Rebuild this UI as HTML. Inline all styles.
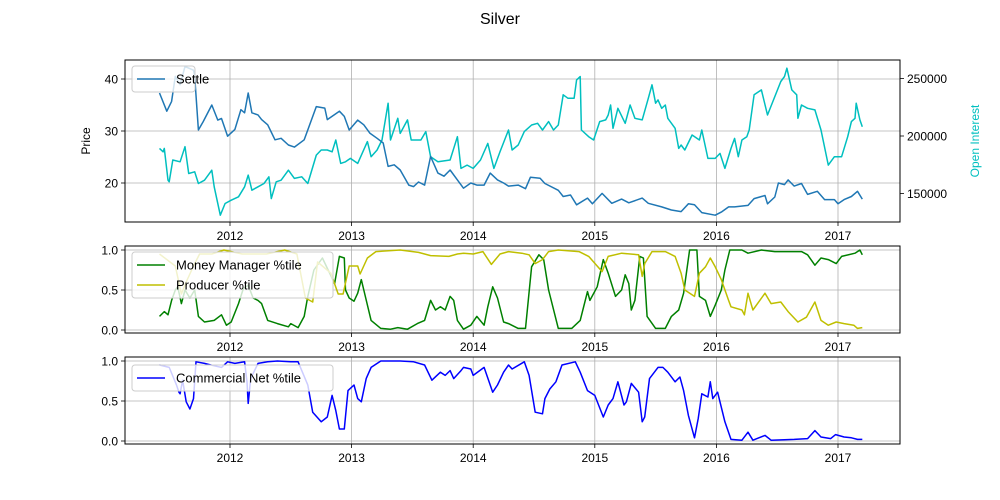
<!DOCTYPE html>
<html><head><meta charset="utf-8"><style>
body{margin:0;background:#fff;}
svg{display:block;font-family:"Liberation Sans","DejaVu Sans",sans-serif;}
</style></head><body>
<svg id="chart" width="1000" height="500" viewBox="0 0 1000 500">
<text x="500" y="24" text-anchor="middle" font-size="16">Silver</text>
</svg>
<script>
const settleDates=[2011.42,2011.48,2011.52,2011.55,2011.59,2011.63,2011.70,2011.71,2011.74,2011.78,2011.85,2011.90,2011.93,2011.98,2012.04,2012.09,2012.12,2012.15,2012.18,2012.23,2012.26,2012.31,2012.37,2012.42,2012.48,2012.53,2012.61,2012.71,2012.78,2012.80,2012.90,2012.94,2012.98,2013.05,2013.10,2013.15,2013.21,2013.26,2013.30,2013.35,2013.40,2013.47,2013.51,2013.55,2013.60,2013.65,2013.71,2013.76,2013.81,2013.87,2013.92,2013.98,2014.03,2014.09,2014.14,2014.20,2014.25,2014.29,2014.37,2014.43,2014.47,2014.55,2014.59,2014.70,2014.74,2014.80,2014.85,2014.94,2014.98,2015.06,2015.14,2015.22,2015.28,2015.39,2015.44,2015.55,2015.63,2015.71,2015.77,2015.82,2015.88,2015.99,2016.04,2016.10,2016.15,2016.26,2016.31,2016.40,2016.42,2016.48,2016.51,2016.56,2016.59,2016.64,2016.70,2016.75,2016.83,2016.89,2016.97,2017.00,2017.05,2017.11,2017.16,2017.20];
const settleValues=[37.3,33.8,35.7,40.5,38.9,42.4,41.7,40.5,30.2,31.8,35.0,32.1,32.4,29.0,30.3,34.1,33.5,37.3,33.5,33.1,32.2,31.2,28.3,28.6,27.3,26.9,28.3,34.7,34.4,32.2,33.8,32.8,30.2,32.1,31.2,29.6,28.6,27.7,23.2,23.5,22.5,19.6,19.3,20.2,19.6,25.1,21.9,21.3,22.5,20.6,19.0,20.0,19.6,19.6,21.9,20.6,20.0,19.4,19.6,18.9,21.1,20.9,19.9,18.6,17.4,17.7,15.8,17.1,16.0,18.0,16.1,16.9,16.2,17.1,16.1,15.4,14.8,14.5,16.0,15.8,14.3,13.8,14.4,15.4,15.4,15.7,17.0,17.6,16.0,17.3,20.0,19.7,20.6,19.4,19.9,17.8,18.4,16.8,16.8,16.0,16.8,17.4,18.4,16.9];
const oiDates=[2011.42,2011.45,2011.46,2011.49,2011.50,2011.53,2011.59,2011.63,2011.66,2011.71,2011.74,2011.79,2011.85,2011.87,2011.92,2011.96,2012.01,2012.07,2012.12,2012.15,2012.18,2012.23,2012.28,2012.32,2012.34,2012.38,2012.42,2012.48,2012.53,2012.59,2012.64,2012.71,2012.75,2012.80,2012.84,2012.87,2012.91,2012.95,2012.99,2013.05,2013.13,2013.16,2013.21,2013.25,2013.30,2013.32,2013.38,2013.40,2013.46,2013.49,2013.57,2013.61,2013.65,2013.71,2013.81,2013.87,2013.90,2013.95,2014.00,2014.06,2014.12,2014.17,2014.22,2014.29,2014.32,2014.37,2014.42,2014.48,2014.53,2014.57,2014.62,2014.66,2014.70,2014.74,2014.78,2014.83,2014.85,2014.88,2014.89,2014.95,2014.99,2015.04,2015.09,2015.11,2015.13,2015.15,2015.19,2015.25,2015.29,2015.33,2015.39,2015.44,2015.47,2015.50,2015.52,2015.55,2015.58,2015.60,2015.66,2015.69,2015.71,2015.74,2015.80,2015.86,2015.88,2015.93,2015.99,2016.03,2016.07,2016.12,2016.15,2016.18,2016.21,2016.25,2016.27,2016.31,2016.37,2016.42,2016.48,2016.53,2016.56,2016.58,2016.62,2016.66,2016.67,2016.70,2016.75,2016.81,2016.86,2016.92,2016.97,2017.03,2017.08,2017.11,2017.14,2017.15,2017.18,2017.20];
const oiValues=[189.2,186.3,189.2,161.6,160.2,179.1,177.6,190.7,167.4,168.9,158.7,161.6,170.3,155.8,131.1,141.3,144.2,147.1,155.8,166.0,152.9,155.8,158.7,164.5,145.6,160.2,161.6,170.3,163.1,164.5,158.7,183.4,187.8,187.8,186.3,196.5,176.2,177.6,180.5,176.2,195.1,182.0,187.8,196.5,228.5,196.5,215.4,202.3,214.0,196.5,196.5,203.8,182.0,177.6,179.1,199.4,171.8,174.7,171.8,179.1,193.6,171.8,186.3,205.2,187.8,192.2,203.8,209.6,211.0,205.2,212.5,205.2,209.6,235.8,232.8,232.8,248.8,251.7,205.2,199.4,196.5,212.5,214.0,218.3,227.0,206.7,224.1,211.0,227.0,215.4,214.0,232.8,244.5,228.5,231.4,224.1,227.0,215.4,206.7,189.2,192.2,187.8,200.9,196.5,205.2,180.5,180.5,184.9,171.8,189.2,197.9,182.0,196.5,199.4,205.2,235.8,240.1,218.3,234.3,247.4,251.7,259.0,240.1,235.8,215.4,227.0,224.1,222.7,205.2,174.7,182.0,182.0,199.4,212.5,215.4,228.5,214.0,208.1];
const mmDates=[2011.42,2011.46,2011.49,2011.52,2011.55,2011.57,2011.60,2011.63,2011.67,2011.71,2011.74,2011.79,2011.87,2011.93,2011.97,2012.01,2012.07,2012.11,2012.15,2012.19,2012.23,2012.26,2012.31,2012.39,2012.48,2012.50,2012.56,2012.61,2012.64,2012.69,2012.76,2012.86,2012.90,2012.94,2012.95,2012.98,2013.02,2013.05,2013.08,2013.10,2013.16,2013.24,2013.32,2013.38,2013.46,2013.54,2013.60,2013.65,2013.69,2013.73,2013.77,2013.81,2013.84,2013.87,2013.92,2013.98,2014.03,2014.09,2014.12,2014.16,2014.20,2014.25,2014.29,2014.37,2014.43,2014.48,2014.54,2014.58,2014.62,2014.70,2014.81,2014.88,2014.94,2014.96,2015.02,2015.07,2015.11,2015.17,2015.22,2015.25,2015.28,2015.30,2015.33,2015.37,2015.40,2015.43,2015.50,2015.58,2015.63,2015.69,2015.73,2015.78,2015.84,2015.86,2015.91,2015.95,2015.99,2016.04,2016.07,2016.11,2016.21,2016.26,2016.37,2016.48,2016.62,2016.70,2016.75,2016.81,2016.86,2016.92,2016.985,2017.03,2017.14,2017.18,2017.20];
const mmValues=[0.17,0.23,0.19,0.37,0.5,0.54,0.33,0.5,0.4,0.5,0.17,0.1,0.12,0.19,0.06,0.1,0.33,0.52,0.56,0.4,0.37,0.33,0.12,0.08,0.04,0.08,0.03,0.17,0.42,0.75,0.9,0.58,0.92,0.9,0.5,0.4,0.36,0.46,0.63,0.5,0.12,0.02,0.01,0.03,0.01,0.08,0.12,0.37,0.25,0.29,0.25,0.42,0.37,0.12,0.01,0.06,0.17,0.06,0.29,0.54,0.4,0.1,0.08,0.02,0.02,0.79,0.94,0.88,0.5,0.02,0.02,0.12,0.48,0.37,0.54,0.88,0.71,0.42,0.5,0.69,0.58,0.25,0.37,0.92,0.9,0.17,0.02,0.02,0.17,0.25,0.46,1.0,1.0,0.42,0.37,0.17,0.31,0.5,0.75,1.0,1.0,0.96,1.0,0.98,0.98,0.98,0.94,0.81,0.9,0.88,0.83,0.92,0.96,1.0,0.94];
const prodDates=[2011.42,2011.55,2011.60,2011.64,2011.70,2011.75,2011.85,2011.95,2012.10,2012.30,2012.45,2012.55,2012.62,2012.68,2012.72,2012.83,2012.89,2012.93,2012.98,2013.05,2013.07,2013.13,2013.20,2013.40,2013.55,2013.65,2013.80,2013.87,2013.92,2014.00,2014.08,2014.15,2014.22,2014.29,2014.40,2014.46,2014.51,2014.57,2014.62,2014.70,2014.87,2014.95,2015.06,2015.11,2015.22,2015.36,2015.39,2015.41,2015.47,2015.58,2015.66,2015.71,2015.74,2015.82,2015.86,2015.91,2015.95,2015.99,2016.04,2016.10,2016.12,2016.21,2016.23,2016.26,2016.30,2016.40,2016.45,2016.53,2016.59,2016.67,2016.74,2016.81,2016.86,2016.92,2016.985,2017.05,2017.13,2017.16,2017.20];
const prodValues=[0.95,0.8,0.45,0.6,0.8,0.95,0.95,1.0,0.95,0.95,1.0,0.95,0.4,0.35,0.85,0.71,0.45,0.45,0.8,0.8,0.7,0.9,0.98,1.0,0.97,0.93,0.92,0.95,0.96,0.95,0.98,0.82,0.95,0.98,0.96,0.94,0.83,0.88,0.98,1.0,0.98,0.92,0.73,0.92,0.96,0.94,0.67,0.83,0.98,0.98,0.92,0.71,0.5,0.42,0.71,0.79,0.9,0.79,0.63,0.37,0.29,0.25,0.19,0.46,0.25,0.46,0.33,0.35,0.23,0.1,0.16,0.35,0.12,0.06,0.1,0.08,0.06,0.02,0.03];
const comDates=[2011.42,2011.50,2011.56,2011.58,2011.59,2011.61,2011.64,2011.67,2011.70,2011.72,2011.79,2011.87,2011.93,2011.98,2012.04,2012.12,2012.14,2012.15,2012.17,2012.23,2012.31,2012.39,2012.50,2012.56,2012.64,2012.68,2012.75,2012.80,2012.84,2012.87,2012.90,2012.94,2012.97,2013.02,2013.05,2013.08,2013.12,2013.16,2013.24,2013.40,2013.51,2013.60,2013.66,2013.73,2013.77,2013.81,2013.84,2013.90,2013.92,2013.98,2014.00,2014.09,2014.16,2014.20,2014.25,2014.29,2014.32,2014.42,2014.46,2014.51,2014.57,2014.59,2014.63,2014.68,2014.73,2014.84,2014.88,2014.94,2015.00,2015.07,2015.11,2015.15,2015.19,2015.24,2015.26,2015.30,2015.36,2015.39,2015.41,2015.45,2015.52,2015.56,2015.60,2015.66,2015.70,2015.73,2015.77,2015.82,2015.85,2015.88,2015.93,2015.95,2015.97,2016.01,2016.07,2016.12,2016.21,2016.26,2016.30,2016.40,2016.45,2016.64,2016.75,2016.81,2016.86,2016.94,2016.98,2017.05,2017.11,2017.16,2017.20];
const comValues=[0.95,0.92,0.7,0.61,0.59,0.76,0.49,0.4,0.53,0.99,0.97,0.94,0.92,0.99,0.97,0.99,0.74,0.47,0.78,0.97,0.99,1.0,0.99,0.99,0.7,0.36,0.24,0.3,0.57,0.38,0.15,0.15,0.63,0.7,0.53,0.49,0.78,0.92,1.0,1.0,0.99,0.95,0.76,0.86,0.82,0.88,0.78,0.88,0.92,0.9,0.82,0.92,0.61,0.7,0.86,0.95,0.9,0.99,0.82,0.36,0.34,0.53,0.65,0.74,0.95,0.99,0.86,0.63,0.57,0.3,0.45,0.53,0.74,0.45,0.49,0.72,0.61,0.24,0.3,0.78,0.92,0.92,0.86,0.74,0.8,0.63,0.32,0.04,0.28,0.59,0.55,0.74,0.53,0.61,0.24,0.02,0.01,0.11,0.01,0.07,0.01,0.02,0.03,0.13,0.05,0.03,0.08,0.05,0.04,0.02,0.02];
const yearTicks=[2012,2013,2014,2015,2016,2017];
const priceTicks=[20,30,40];
const oiTicks=[150000,200000,250000];
const pctTicks=[0.0,0.5,1.0];

const NS='http://www.w3.org/2000/svg';
const svg=document.getElementById('chart');
const X0=125,X1=900;
function xs(y){return 230+(y-2012)*121.6;}
function mk(tag,attrs,parent){const e=document.createElementNS(NS,tag);for(const k in attrs)e.setAttribute(k,attrs[k]);(parent||svg).appendChild(e);return e;}
const panels=[
 {top:60,bot:222,yf:v=>183-(v-20)*5.2,ticks:priceTicks,fmt:v=>String(v),name:'price-panel'},
 {top:246,bot:333,yf:v=>330-v*80,ticks:pctTicks,fmt:v=>v.toFixed(1),name:'positioning-panel'},
 {top:357,bot:444,yf:v=>441-v*80,ticks:pctTicks,fmt:v=>v.toFixed(1),name:'commercial-panel'}
];
const oiY=v=>136-(v-200000)*0.00115;
panels.forEach((p,pi)=>{
 const g=mk('g',{});
 
 
 yearTicks.forEach(t=>{
  const gl=mk('line',{x1:xs(t),x2:xs(t),y1:p.top,y2:p.bot,stroke:'#b0b0b0','stroke-width':0.8},g);
  
  
  mk('line',{x1:xs(t),x2:xs(t),y1:p.bot,y2:p.bot+4,stroke:'#000','stroke-width':0.8},g);
  const tl=mk('text',{x:xs(t),y:p.bot+18,'text-anchor':'middle','font-size':12},g);
  tl.textContent=t;
  
  
 });
 p.ticks.forEach(t=>{
  const y=p.yf(t);
  const gl=mk('line',{x1:X0,x2:X1,y1:y,y2:y,stroke:'#b0b0b0','stroke-width':0.8},g);
  
  
  mk('line',{x1:X0-4,x2:X0,y1:y,y2:y,stroke:'#000','stroke-width':0.8},g);
  const tl=mk('text',{x:X0-7,y:y+4.5,'text-anchor':'end','font-size':12},g);
  tl.textContent=p.fmt(t);
  
  
 });
 p.g=g;
});
function line(dates,vals,yf,color,name,parent){
 const d=dates.map((t,i)=>(i?'L':'M')+xs(t).toFixed(1)+','+yf(vals[i]).toFixed(1)).join('');
 const e=mk('path',{d:d,fill:'none',stroke:color,'stroke-width':1.5,'stroke-linejoin':'round'},parent);
 
 
}
line(oiDates,oiValues.map(v=>v*1000),oiY,'#00bfbf','open-interest-line',panels[0].g);
line(settleDates,settleValues,panels[0].yf,'#1f77b4','settle-line',panels[0].g);
line(mmDates,mmValues,panels[1].yf,'#008000','money-manager-line',panels[1].g);
line(prodDates,prodValues,panels[1].yf,'#bfbf00','producer-line',panels[1].g);
line(comDates,comValues,panels[2].yf,'#0000ff','commercial-net-line',panels[2].g);
// right axis
oiTicks.forEach(t=>{
 const y=oiY(t);
 mk('line',{x1:X1,x2:X1+4,y1:y,y2:y,stroke:'#000','stroke-width':0.8});
 const tl=mk('text',{x:X1+7,y:y+4.5,'font-size':12});
 tl.textContent=t;
 
 
});
panels.forEach(p=>{
 const r=mk('rect',{x:X0,y:p.top,width:X1-X0,height:p.bot-p.top,fill:'none',stroke:'#000','stroke-width':1});
 
 
});
const yl=mk('text',{x:0,y:0,transform:'translate(90,141) rotate(-90)','text-anchor':'middle','font-size':12});
yl.textContent='Price';


const yr=mk('text',{x:0,y:0,transform:'translate(979,141) rotate(-90)','text-anchor':'middle','font-size':12,fill:'#00bfbf'});
yr.textContent='Open Interest';


function legend(x,y,w,entries){
 const g=mk('g',{});
 
 
 mk('rect',{x:x,y:y,width:w,height:entries.length*20+6,rx:3,fill:'#fff','fill-opacity':0.8,stroke:'#ccc'},g);
 entries.forEach((e,i)=>{
  const cy=y+13+i*20;
  mk('line',{x1:x+5,x2:x+33,y1:cy,y2:cy,stroke:e[1],'stroke-width':1.5},g);
  const t=mk('text',{x:x+44,y:cy+4.5,'font-size':13},g);
  t.textContent=e[0];
  
  
 });
}
legend(132,66,63,[['Settle','#1f77b4']]);
legend(132,252,201,[['Money Manager %tile','#008000'],['Producer %tile','#bfbf00']]);
legend(132,365,201,[['Commercial Net %tile','#0000ff']]);
</script>
</body></html>
